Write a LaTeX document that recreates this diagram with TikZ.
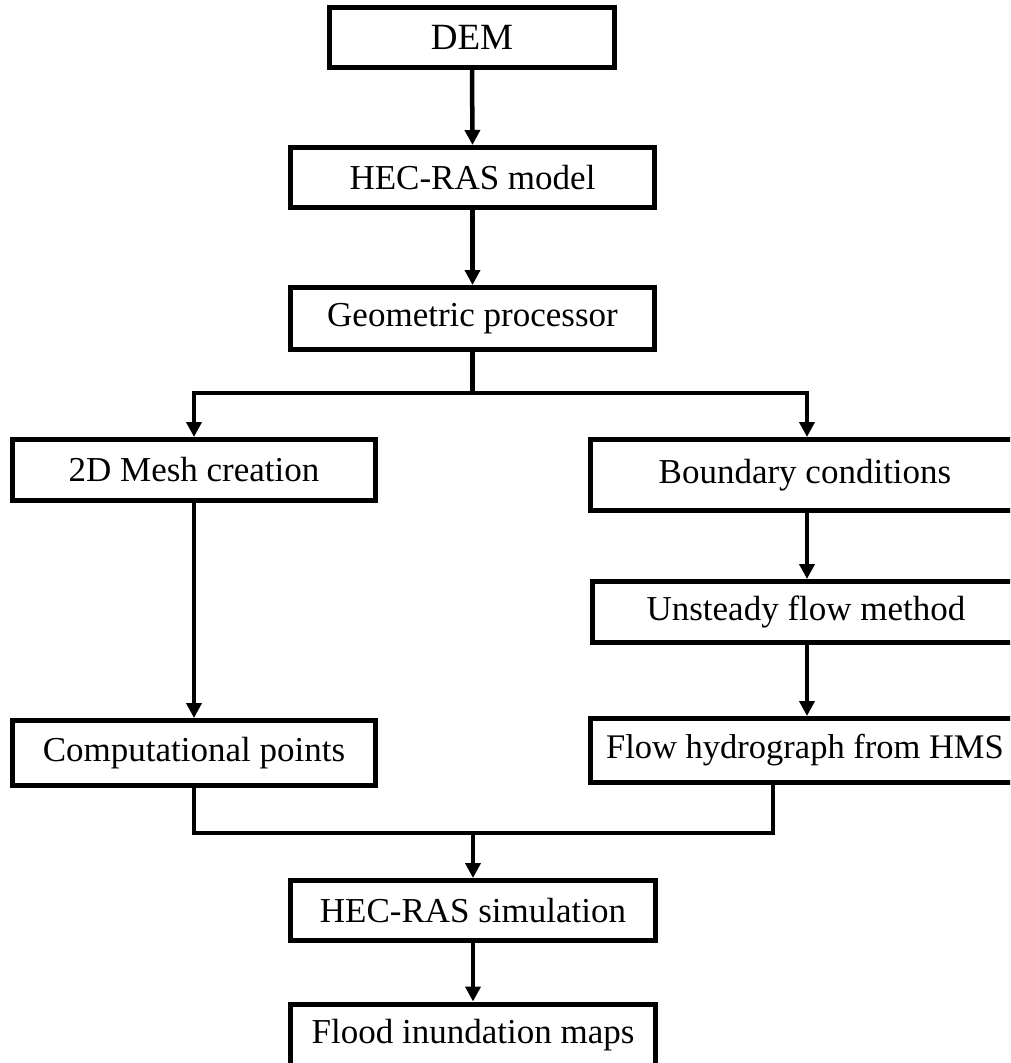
\documentclass[tikz,border=0pt]{standalone}
\usepackage{fontspec}
\setmainfont{Liberation Serif}
\usetikzlibrary{arrows.meta,calc}
\begin{document}
\begin{tikzpicture}[x=1pt,y=-1pt,
  box/.style={draw=black,line width=5pt,inner sep=0pt,align=center,
    font=\fontsize{35}{40}\selectfont},
  conn/.style={draw=black,line width=4.5pt},
  arr/.style={conn,-{Triangle[width=15pt,length=15pt]}}]
\useasboundingbox (0,0) rectangle (1010,1063);
\clip (0,0) rectangle (1010,1063);
\node[box,minimum width=285pt,minimum height=60pt,font=\fontsize{37}{40}\selectfont] (dem) at (472,37.5) {DEM};
\node[box,minimum width=364pt,minimum height=60pt] (hec) at (472.5,177.5) {HEC-RAS model};
\node[box,minimum width=364pt,minimum height=62pt] (geo) at (472.5,318.5) {Geometric processor};
\node[box,minimum width=363pt,minimum height=61pt] (mesh) at (194,470) {2D Mesh creation};
\node[box,minimum width=430pt,minimum height=71pt] (bnd) at (805,475) {Boundary conditions};
\node[box,minimum width=428pt,minimum height=61pt] (uns) at (806,612) {Unsteady flow method};
\node[box,minimum width=363pt,minimum height=65pt] (comp) at (194,753) {Computational points};
\node[box,minimum width=430pt,minimum height=64pt,font=\fontsize{34.5}{40}\selectfont] (flow) at (805,750.5) {Flow hydrograph from HMS};
\node[box,minimum width=365pt,minimum height=60pt] (sim) at (473,910.5) {HEC-RAS simulation};
\node[box,minimum width=365pt,minimum height=62pt] (flood) at (473,1035) {Flood inundation maps};
\draw[arr] (dem.south) -- (hec.north);
\draw[arr] (hec.south) -- (geo.north);
\coordinate (j1) at (472.5,393);
\draw[conn] (geo.south) -- (j1);
\draw[arr] (j1) -| (mesh.north);
\draw[arr] (j1) -| ($(bnd.north)+(2,0)$);
\draw[arr] ($(bnd.south)+(2,0)$) -- ($(uns.north)+(1,0)$);
\draw[arr] ($(uns.south)+(1,0)$) -- ($(flow.north)+(2,0)$);
\draw[arr] (mesh.south) -- (comp.north);
\coordinate (fl) at ($(flow.south west)!0.426!(flow.south east)$);
\coordinate (j2) at (473,833);
\draw[conn] (comp.south) |- (j2);
\draw[conn] (fl) |- (j2);
\draw[arr] (j2) -- (sim.north);
\draw[arr] (sim.south) -- (flood.north);
\end{tikzpicture}
\end{document}
